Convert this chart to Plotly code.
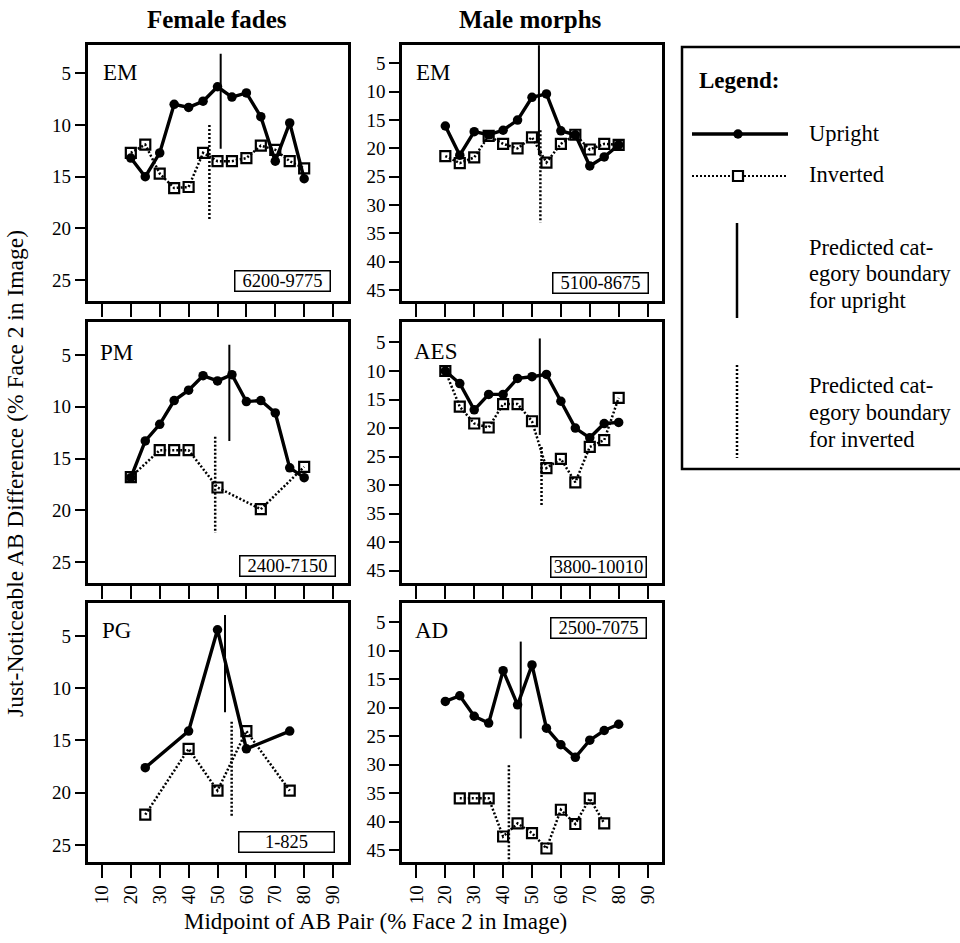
import plotly.graph_objects as go

W, H = 960, 943
FONT = "Liberation Serif"

# ---------------- data ----------------
x_tick_vals = [10, 20, 30, 40, 50, 60, 70, 80, 90]
left_y_ticks = [5, 10, 15, 20, 25]
right_y_ticks = [5, 10, 15, 20, 25, 30, 35, 40, 45]

# Female fades - EM
fem_em_x = [20, 25, 30, 35, 40, 45, 50, 55, 60, 65, 70, 75, 80]
fem_em_up = [13.2, 15.0, 12.7, 8.0, 8.3, 7.7, 6.3, 7.3, 6.9, 9.2, 13.5, 9.8, 15.2]
fem_em_inv = [12.7, 11.9, 14.7, 16.1, 16.0, 12.7, 13.5, 13.5, 13.2, 12.0, 12.4, 13.5, 14.2]
fem_em_bound_up = [51.1, 3.1, 12.3]
fem_em_bound_inv = [47.2, 10.0, 19.2]

# Female fades - PM
fem_pm_x_up = [20, 25, 30, 35, 40, 45, 50, 55, 60, 65, 70, 75, 80]
fem_pm_up = [16.85, 13.3, 11.7, 9.4, 8.4, 7.0, 7.5, 6.9, 9.5, 9.4, 10.6, 15.9, 16.85]
fem_pm_x_inv = [20, 30, 35, 40, 50, 65, 80]
fem_pm_inv = [16.8, 14.2, 14.2, 14.2, 17.8, 19.9, 15.8]
fem_pm_bound_up = [54.1, 4.0, 13.3]
fem_pm_bound_inv = [49.2, 12.9, 22.2]

# Female fades - PG
fem_pg_x = [25, 40, 50, 60, 75]
fem_pg_up = [17.6, 14.1, 4.4, 15.8, 14.1]
fem_pg_inv = [22.1, 15.8, 19.8, 14.1, 19.8]
fem_pg_bound_up = [52.6, 3.0, 12.3]
fem_pg_bound_inv = [54.9, 13.2, 22.4]

# Male morphs - EM
male_em_x = [20, 25, 30, 35, 40, 45, 50, 55, 60, 65, 70, 75, 80]
male_em_up = [16.05, 21.2, 17.05, 17.6, 16.8, 15.0, 11.0, 10.4, 16.9, 17.6, 23.1, 21.5, 19.4]
male_em_inv = [21.35, 22.6, 21.6, 17.8, 19.2, 20.0, 18.05, 22.5, 19.2, 17.6, 20.2, 19.2, 19.4]
male_em_bound_up = [52.4, 1.8, 21.2]
male_em_bound_inv = [52.9, 16.8, 33.1]

# Male morphs - AES
male_aes_x = [20, 25, 30, 35, 40, 45, 50, 55, 60, 65, 70, 75, 80]
male_aes_up = [10.0, 12.2, 16.8, 14.1, 14.1, 11.3, 11.0, 10.6, 15.3, 20.0, 21.7, 19.2, 19.0]
male_aes_inv = [10.0, 16.25, 19.2, 19.9, 15.8, 15.8, 18.8, 27.0, 25.4, 29.5, 23.3, 22.1, 14.7]
male_aes_bound_up = [52.7, 4.3, 21.2]
male_aes_bound_inv = [53.3, 23.3, 33.5]

# Male morphs - AD
male_ad_x_up = [20, 25, 30, 35, 40, 45, 50, 55, 60, 65, 70, 75, 80]
male_ad_up = [18.9, 17.9, 21.5, 22.7, 13.5, 19.5, 12.5, 23.6, 26.5, 28.7, 25.7, 24.0, 22.9]
male_ad_x_inv = [25, 30, 35, 40, 45, 50, 55, 60, 65, 70, 75]
male_ad_inv = [35.9, 35.9, 35.9, 42.6, 40.3, 42.0, 44.7, 37.9, 40.4, 35.9, 40.3]
male_ad_bound_up = [46.1, 8.4, 25.4]
male_ad_bound_inv = [42.0, 30.1, 47.0]

panel_names = ["EM", "EM", "PM", "AES", "PG", "AD"]
range_labels = ["6200-9775", "5100-8675", "2400-7150", "3800-10010", "1-825", "2500-7075"]

panels = [
    dict(ux=fem_em_x, uy=fem_em_up, ix=fem_em_x, iy=fem_em_inv, bu=fem_em_bound_up, bi=fem_em_bound_inv),
    dict(ux=male_em_x, uy=male_em_up, ix=male_em_x, iy=male_em_inv, bu=male_em_bound_up, bi=male_em_bound_inv),
    dict(ux=fem_pm_x_up, uy=fem_pm_up, ix=fem_pm_x_inv, iy=fem_pm_inv, bu=fem_pm_bound_up, bi=fem_pm_bound_inv),
    dict(ux=male_aes_x, uy=male_aes_up, ix=male_aes_x, iy=male_aes_inv, bu=male_aes_bound_up, bi=male_aes_bound_inv),
    dict(ux=fem_pg_x, uy=fem_pg_up, ix=fem_pg_x, iy=fem_pg_inv, bu=fem_pg_bound_up, bi=fem_pg_bound_inv),
    dict(ux=male_ad_x_up, uy=male_ad_up, ix=male_ad_x_inv, iy=male_ad_inv, bu=male_ad_bound_up, bi=male_ad_bound_inv),
]

# ---------------- geometry (pixels) ----------------
COL_X = [(87.5, 347.5), (402, 662)]
ROW_Y = [(45, 301), (322, 583), (603, 862)]
Y_RANGES = [(27.03, 2.26), (46.93, 1.76), (27.03, 1.81), (47.13, 1.42), (26.63, 1.84), (47.07, 1.63)]
NAME_POS = [(101, 73), (414, 73), (98, 352), (412, 351), (100, 630), (413, 630)]
BOX_POS = [(282.5, 281.5), (600, 283), (287, 565.5), (598.5, 566.5), (286.5, 842), (598.5, 627.5)]


def PX(p):
    return p / W


def PY(p):
    return 1 - p / H


fig = go.Figure()
layout = dict(
    width=W, height=H, margin=dict(l=0, r=0, t=0, b=0),
    paper_bgcolor="white", plot_bgcolor="rgba(0,0,0,0)",
    showlegend=False, font=dict(family=FONT, color="black"),
)
shapes = []
annotations = []

for i, p in enumerate(panels):
    k = i + 1
    col = i % 2
    row = i // 2
    xs = "x" if k == 1 else f"x{k}"
    ys = "y" if k == 1 else f"y{k}"
    x0, x1 = COL_X[col]
    y0, y1 = ROW_Y[row]
    layout[f"xaxis{k}" if k > 1 else "xaxis"] = dict(
        domain=[PX(x0), PX(x1)], range=[5, 95], anchor=ys,
        tickvals=x_tick_vals, ticks="outside", ticklen=13, tickwidth=2, tickcolor="black",
        showticklabels=(row == 2), tickangle=-90, tickfont=dict(size=19, family=FONT),
        showline=True, linewidth=2.5, linecolor="black", mirror=True,
        showgrid=False, zeroline=False, fixedrange=True,
    )
    layout[f"yaxis{k}" if k > 1 else "yaxis"] = dict(
        domain=[PY(y1), PY(y0)], range=list(Y_RANGES[i]), anchor=xs,
        tickvals=left_y_ticks if col == 0 else right_y_ticks,
        ticks="outside", ticklen=10, tickwidth=2, tickcolor="black",
        tickfont=dict(size=19, family=FONT),
        showline=True, linewidth=2.5, linecolor="black", mirror=True,
        showgrid=False, zeroline=False, fixedrange=True,
    )
    # inverted
    fig.add_trace(go.Scatter(
        x=p["ix"], y=p["iy"], xaxis=xs, yaxis=ys, mode="lines+markers",
        line=dict(color="black", width=2.5, dash="2px,2px"),
        marker=dict(symbol="square-open", size=10, color="black", line=dict(width=2.2, color="black")),
        cliponaxis=False,
    ))
    # upright
    fig.add_trace(go.Scatter(
        x=p["ux"], y=p["uy"], xaxis=xs, yaxis=ys, mode="lines+markers",
        line=dict(color="black", width=3.4),
        marker=dict(symbol="circle", size=9.5, color="black"),
        cliponaxis=False,
    ))
    # boundaries
    bu, bi = p["bu"], p["bi"]
    shapes.append(dict(type="line", xref=xs, yref=ys, x0=bu[0], x1=bu[0], y0=bu[1], y1=bu[2],
                       line=dict(color="black", width=2)))
    shapes.append(dict(type="line", xref=xs, yref=ys, x0=bi[0], x1=bi[0], y0=bi[1], y1=bi[2],
                       line=dict(color="black", width=2.5, dash="2px,2px")))
    # panel name
    nx, ny = NAME_POS[i]
    annotations.append(dict(text=panel_names[i], xref="paper", yref="paper", x=PX(nx), y=PY(ny),
                            xanchor="left", yanchor="middle", showarrow=False,
                            font=dict(size=23, family=FONT)))
    bx, by = BOX_POS[i]
    annotations.append(dict(text=range_labels[i], xref="paper", yref="paper", x=PX(bx), y=PY(by),
                            xanchor="center", yanchor="middle", showarrow=False, width=92, height=17,
                            bordercolor="black", borderwidth=1.5, borderpad=1, bgcolor="white",
                            font=dict(size=18.5, family=FONT)))

# legend axis in pixel coordinates
layout["xaxis7"] = dict(domain=[0, 1], range=[0, W], visible=False, anchor="y7", fixedrange=True)
layout["yaxis7"] = dict(domain=[0, 1], range=[H, 0], visible=False, anchor="x7", fixedrange=True)

fig.add_trace(go.Scatter(x=[692, 788], y=[134, 134], xaxis="x7", yaxis="y7", mode="lines",
                         line=dict(color="black", width=3.4)))
fig.add_trace(go.Scatter(x=[738], y=[134], xaxis="x7", yaxis="y7", mode="markers",
                         marker=dict(symbol="circle", size=9.5, color="black")))
fig.add_trace(go.Scatter(x=[692, 788], y=[176, 176], xaxis="x7", yaxis="y7", mode="lines",
                         line=dict(color="black", width=2.2, dash="2px,2px")))
fig.add_trace(go.Scatter(x=[738], y=[176], xaxis="x7", yaxis="y7", mode="markers",
                         marker=dict(symbol="square", size=10, color="white",
                                     line=dict(width=2.2, color="black"))))
fig.add_trace(go.Scatter(x=[737, 737], y=[223, 318], xaxis="x7", yaxis="y7", mode="lines",
                         line=dict(color="black", width=2.5)))
fig.add_trace(go.Scatter(x=[737, 737], y=[365, 458], xaxis="x7", yaxis="y7", mode="lines",
                         line=dict(color="black", width=2.5, dash="2px,2px")))

# legend box
shapes.append(dict(type="rect", xref="paper", yref="paper", x0=PX(682), x1=PX(975), y0=PY(469), y1=PY(47),
                   line=dict(color="black", width=2.5)))


def txt(s, x, y, size=22.5, xanchor="left", bold=False, angle=0):
    annotations.append(dict(text=f"<b>{s}</b>" if bold else s, xref="paper", yref="paper",
                            x=PX(x), y=PY(y), xanchor=xanchor, yanchor="middle", showarrow=False,
                            textangle=angle, font=dict(size=size, family=FONT)))


txt("Legend:", 697, 80, size=23, bold=True)
txt("Upright", 807, 133)
txt("Inverted", 807, 175)
for j, s in enumerate(["Predicted cat-", "egory boundary", "for upright"]):
    txt(s, 807, 247 + 27 * j)
for j, s in enumerate(["Predicted cat-", "egory boundary", "for inverted"]):
    txt(s, 807, 385 + 27 * j)

# titles
txt("Female fades", 217, 20, size=25, xanchor="center", bold=True)
txt("Male morphs", 530, 20, size=25, xanchor="center", bold=True)
txt("Just-Noticeable AB Difference (% Face 2 in Image)", 15, 474, size=23.5, xanchor="center", angle=-90)
txt("Midpoint of AB Pair (% Face 2 in Image)", 375, 921, size=23, xanchor="center")

layout["shapes"] = shapes
layout["annotations"] = annotations
fig.update_layout(**layout)
fig.write_html("out.html")
